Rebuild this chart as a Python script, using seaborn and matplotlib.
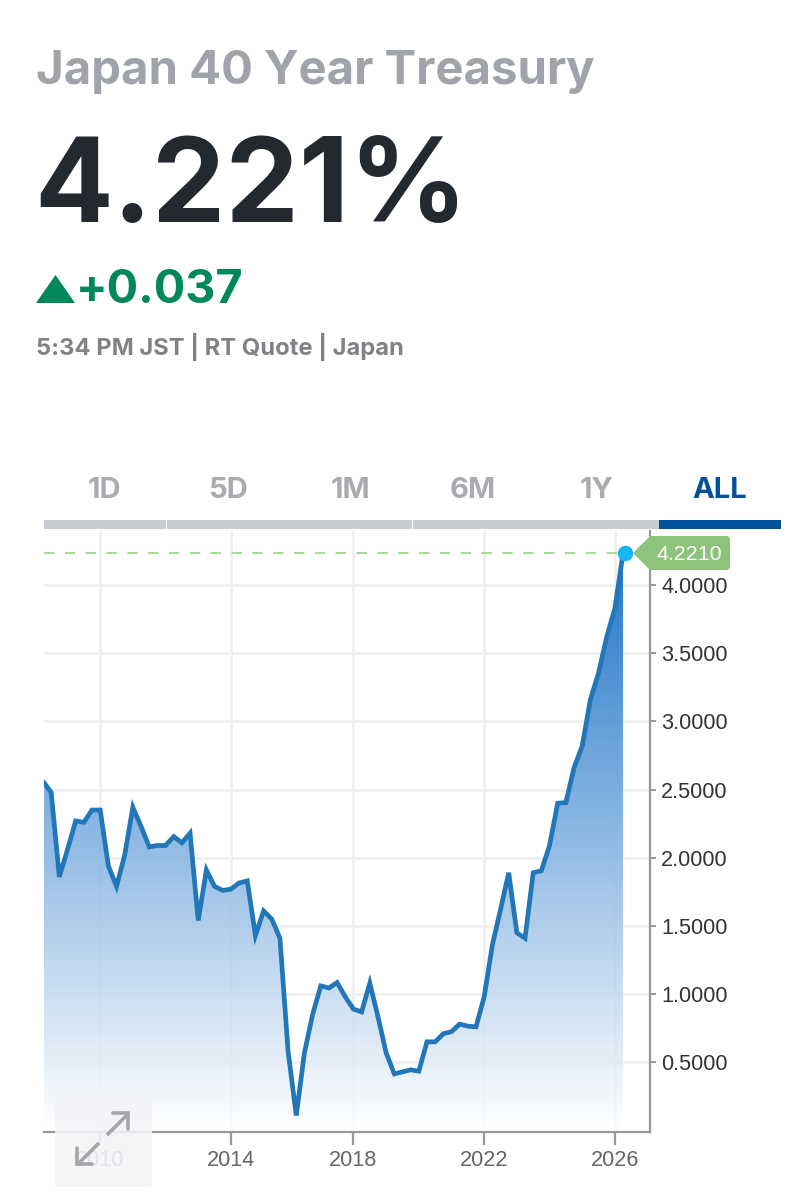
import numpy as np
import pandas as pd
import seaborn as sns
import matplotlib
matplotlib.use("Agg")
import matplotlib.pyplot as plt
from matplotlib.patches import Polygon, Rectangle, FancyBboxPatch
from matplotlib.colors import LinearSegmentedColormap

# ---- data ----
yields = [2.56, 2.48, 1.86, 2.06, 2.27, 2.26, 2.35, 2.35, 1.94, 1.79, 2.02, 2.37,
          2.23, 2.08, 2.09, 2.09, 2.155, 2.11, 2.18, 1.54, 1.91, 1.79, 1.76, 1.77,
          1.815, 1.83, 1.43, 1.61, 1.55, 1.41, 0.58, 0.11, 0.57, 0.85, 1.06, 1.045,
          1.085, 0.98, 0.89, 0.87, 1.08, 0.835, 0.57, 0.415, 0.43, 0.445, 0.435, 0.65,
          0.65, 0.71, 0.725, 0.78, 0.765, 0.76, 0.98, 1.36, 1.62, 1.89, 1.45, 1.41,
          1.89, 1.905, 2.09, 2.40, 2.405, 2.66, 2.82, 3.16, 3.355, 3.62, 3.83, 4.235]
year_tick_pos = [7, 23, 38, 54, 70]
year_tick_labels = ["2010", "2014", "2018", "2022", "2026"]
value_ticks = [0.5, 1.0, 1.5, 2.0, 2.5, 3.0, 3.5, 4.0]
tabs = ["1D", "5D", "1M", "6M", "1Y", "ALL"]
tab_centers = [104, 228, 351, 473, 597, 720]
title = "Japan 40 Year Treasury"
price = "4.221%"
change = "+0.037"
quote_line = "5:34 PM JST | RT Quote | Japan"
last_label = "4.2210"

W, H = 796, 1200
UI = ["Inter", "DejaVu Sans"]
sns.set_theme(style="white")
plt.rcParams["font.family"] = ["Liberation Sans", "DejaVu Sans"]

fig = plt.figure(figsize=(W / 100, H / 100), dpi=100, facecolor="white")

# plot area
L, R, T, B = 44, 650, 531, 1132
ax = fig.add_axes([L / W, 1 - B / H, (R - L) / W, (B - T) / H])
df = pd.DataFrame({"i": np.arange(len(yields)), "v": yields})
xlim = ((L - 43.0) / 8.17, (R - 43.0) / 8.17)
ylim = (-0.011, 4.396)

ax.set_axisbelow(True)
ax.grid(True, color="#f0f0f0", linewidth=2)

ax.fill_between(df["i"], df["v"], -0.011, color="white", alpha=0.8, linewidth=0, zorder=1.2)
poly = ax.fill_between(df["i"], df["v"], -0.011, color="none", linewidth=0)
rgb = (0.13, 0.46, 0.79)
cmap = LinearSegmentedColormap.from_list("g", [(*rgb, 0.0), (*rgb, 1.0)])
im = ax.imshow(np.linspace(1, 0, 256)[:, None], extent=(0, 71, 0, yields[-1]), aspect="auto",
               cmap=cmap, vmin=0, vmax=1, zorder=1.5)
im.set_clip_path(poly.get_paths()[0], transform=ax.transData)

sns.lineplot(data=df, x="i", y="v", ax=ax, color="#2277b8", linewidth=3.4, zorder=3,
             errorbar=None)
ax.lines[-1].set_solid_joinstyle("miter")

ax.set_xlim(*xlim)
ax.set_ylim(*ylim)
ax.set_xlabel("")
ax.set_ylabel("")
ax.set_xticks(year_tick_pos)
ax.set_xticklabels(year_tick_labels, fontsize=15.6, color="#666666")
ax.yaxis.tick_right()
ax.set_yticks(value_ticks)
ax.set_yticklabels([f"{v:.4f}" for v in value_ticks], fontsize=15.6, color="#333333")
ax.tick_params(axis="x", length=9, width=1.6, color="#999999", pad=4, bottom=True)
ax.tick_params(axis="y", length=4.5, width=1.4, color="#999999", pad=3.5, right=True)
for s in ("top", "left"):
    ax.spines[s].set_visible(False)
for s in ("right", "bottom"):
    ax.spines[s].set_color("#999999")
    ax.spines[s].set_linewidth(1.6)

# dashed last-value line and marker
ax.plot([xlim[0], 70.2], [yields[-1]] * 2, color="#a9d99b", lw=1.5, dashes=(5, 5), zorder=2)
ax.scatter([71.2], [yields[-1]], s=125, color="#1ab5f6", zorder=5, linewidths=0, clip_on=False)

# overlay in pixel coordinates
ov = fig.add_axes([0, 0, 1, 1], facecolor="none")
ov.set_xlim(0, W)
ov.set_ylim(H, 0)
ov.axis("off")

ov.text(36, 72, title, family=UI, weight="bold", fontsize=34, color="#a0a3a9", va="center", ha="left")
ov.text(34, 191, price, family=UI, weight="bold", fontsize=84, color="#23292e", va="center", ha="left")
ov.add_patch(Polygon([(36, 303), (75, 303), (55.5, 275)], closed=True, color="#00875a", lw=0))
ov.text(76, 291, change, family=UI, weight="bold", fontsize=33.7, color="#00875a", va="center", ha="left")
ov.text(36, 347, quote_line, family=UI, weight="bold", fontsize=17.1, color="#808285", va="center", ha="left")

for name, cx in zip(tabs, tab_centers):
    active = name == "ALL"
    ov.text(cx, 490, name, family=UI, weight="bold", fontsize=21,
            color="#00539b" if active else "#a9abb0", ha="center", va="center")
ov.add_patch(Rectangle((44, 520), 615, 9, color="#c9ccd2", lw=0))
ov.add_patch(Rectangle((659, 520), 122, 9, color="#00539b", lw=0))
for xs in (166, 412):
    ov.add_patch(Rectangle((xs, 520), 1.2, 9, color="white", lw=0))

# last-value badge
ov.add_patch(FancyBboxPatch((650, 536), 80, 34, boxstyle="round,pad=0,rounding_size=4", color="#8dc37a", lw=0))
ov.add_patch(Polygon([(633, 553), (650, 536), (655, 536), (655, 570), (650, 570)], closed=True, color="#8dc37a", lw=0))
ov.text(689, 554, last_label, fontsize=15.4, color="white", ha="center", va="center")

# expand button
ov.add_patch(FancyBboxPatch((55, 1092), 97, 95, boxstyle="round,pad=0,rounding_size=2",
                            facecolor="#f4f4f8", alpha=0.88, lw=0))
arrow = "#a6a6a8"
ov.plot([107, 128], [1135, 1114], color=arrow, lw=2.6, solid_capstyle="butt")
ov.plot([113, 128, 128], [1113, 1113, 1129], color=arrow, lw=2.6, solid_joinstyle="miter")
ov.plot([99, 78], [1143, 1164], color=arrow, lw=2.6, solid_capstyle="butt")
ov.plot([77, 77, 92], [1148, 1164, 1164], color=arrow, lw=2.6, solid_joinstyle="miter")
ov.set_xlim(0, W)
ov.set_ylim(H, 0)

fig.savefig("out.png", dpi=100)
